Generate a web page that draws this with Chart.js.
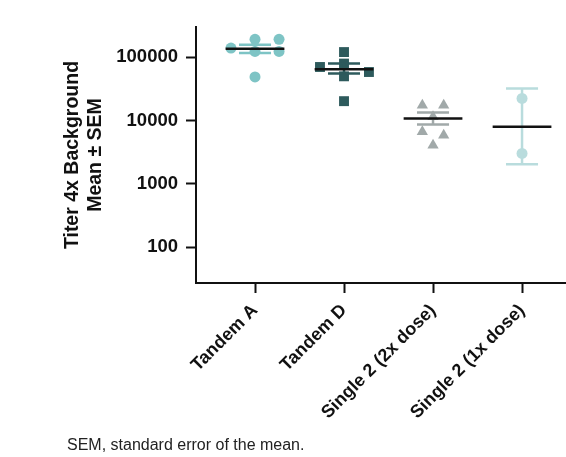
<!DOCTYPE html>
<html>
<head>
<meta charset="utf-8">
<script src="https://cdn.jsdelivr.net/npm/chart.js@4"></script>
<style>
  html, body { margin: 0; padding: 0; background: #fff; }
  #wrap { position: relative; width: 566px; height: 457px; }
  #note { position: absolute; left: 67px; top: 436px; font: 16px "Liberation Sans", Arial, sans-serif; color: #222; }
</style>
</head>
<body>
<div id="wrap">
  <canvas id="dotChart" width="566" height="457"></canvas>
  <div id="note">SEM, standard error of the mean.</div>
</div>
<script>
// groups on the x axis
const categories = ['Tandem A', 'Tandem D', 'Single 2 (2x dose)', 'Single 2 (1x dose)'];
const yTicks = [100, 1000, 10000, 100000];

// individual titers
const tandemA = [140000, 192000, 192000, 124000, 124000, 49000];
const tandemD = [121000, 70300, 79600, 58600, 50100, 20300];
const single2x = [17500, 17500, 11500, 6670, 5900, 4100];
const single1x = [22400, 3040];

// mean and SEM bounds per group
const means = [137000, 64700, 10800, 7980];
const semHigh = [158000, 79500, 13500, 32100];
const semLow = [117000, 55300, 8700, 2040];

// horizontal scatter of the dots (layout only)
const jitterA = [-0.27, 0, 0.27, 0, 0.27, 0];
const jitterD = [0, -0.27, 0, 0.28, 0, 0];
const jitter2x = [-0.12, 0.12, 0, -0.12, 0.12, 0];
const jitter1x = [0, 0];

const colors = ['#7ec4c5', '#2d5a5c', '#a1a9a9', '#b9dcdd'];
const styles = ['circle', 'rect', 'triangle', 'circle'];
const radii = [5.5, 7, 6.5, 5.5];

const groups = [
  { vals: tandemA, jit: jitterA },
  { vals: tandemD, jit: jitterD },
  { vals: single2x, jit: jitter2x },
  { vals: single1x, jit: jitter1x }
];

const datasets = [];

// mean lines (on top)
means.forEach((m, i) => {
  datasets.push({
    type: 'line', data: [{ x: i - 0.33, y: m }, { x: i + 0.33, y: m }],
    borderColor: '#111', borderWidth: 2.5, pointRadius: 0, showLine: true, order: 0
  });
});

// SEM bars
categories.forEach((c, i) => {
  const col = colors[i];
  datasets.push({ type: 'line', data: [{ x: i, y: semLow[i] }, { x: i, y: semHigh[i] }],
    borderColor: col, borderWidth: 2.5, pointRadius: 0, showLine: true, order: 1 });
  datasets.push({ type: 'line', data: [{ x: i - 0.18, y: semHigh[i] }, { x: i + 0.18, y: semHigh[i] }],
    borderColor: col, borderWidth: 2.5, pointRadius: 0, showLine: true, order: 1 });
  datasets.push({ type: 'line', data: [{ x: i - 0.18, y: semLow[i] }, { x: i + 0.18, y: semLow[i] }],
    borderColor: col, borderWidth: 2.5, pointRadius: 0, showLine: true, order: 1 });
});

// individual points
groups.forEach((g, i) => {
  datasets.push({
    type: 'scatter',
    data: g.vals.map((v, k) => ({ x: i + g.jit[k], y: v })),
    backgroundColor: colors[i], borderColor: colors[i], borderWidth: 0,
    pointStyle: styles[i], pointRadius: radii[i], order: 2
  });
});

const ctx = document.getElementById('dotChart').getContext('2d');
const myChart = new Chart(ctx, {
  type: 'scatter',
  data: { datasets: datasets },
  options: {
    responsive: false,
    animation: false,
    layout: { autoPadding: false, padding: { top: 27, right: 0, left: 0, bottom: 0 } },
    plugins: { legend: { display: false }, tooltip: { enabled: false } },
    scales: {
      x: {
        type: 'linear', min: -0.663, max: 3.494,
        afterBuildTicks: (s) => { s.ticks = categories.map((c, i) => ({ value: i })); },
        afterFit: (s) => { s.height = 174; s.paddingRight = 0; s.paddingLeft = 0; },
        grid: { drawOnChartArea: false, drawTicks: true, tickLength: 10, tickColor: '#111', tickWidth: 2 },
        border: { display: true, color: '#111', width: 2 },
        ticks: {
          autoSkip: false, minRotation: 45, maxRotation: 45, padding: 7, color: '#111',
          font: { family: 'Liberation Sans, Arial', size: 18, weight: 'bold' },
          callback: (v) => categories[v]
        }
      },
      y: {
        type: 'logarithmic', min: 27.3, max: 301000,
        afterBuildTicks: (s) => { s.ticks = yTicks.map(v => ({ value: v })); },
        afterFit: (s) => { s.width = 196; },
        grid: { drawOnChartArea: false, drawTicks: true, tickLength: 10, tickColor: '#111', tickWidth: 2 },
        border: { display: true, color: '#111', width: 2 },
        ticks: {
          padding: 8, color: '#111',
          font: { family: 'Liberation Sans, Arial', size: 18.5, weight: 'bold' },
          callback: (v) => String(v)
        },
        title: {
          display: true, text: ['Titer 4x Background', 'Mean \u00b1 SEM'], color: '#111',
          font: { family: 'Liberation Sans, Arial', size: 19.5, weight: 'bold' },
          padding: { top: 61, bottom: 0 }
        }
      }
    }
  }
});
</script>
</body>
</html>
